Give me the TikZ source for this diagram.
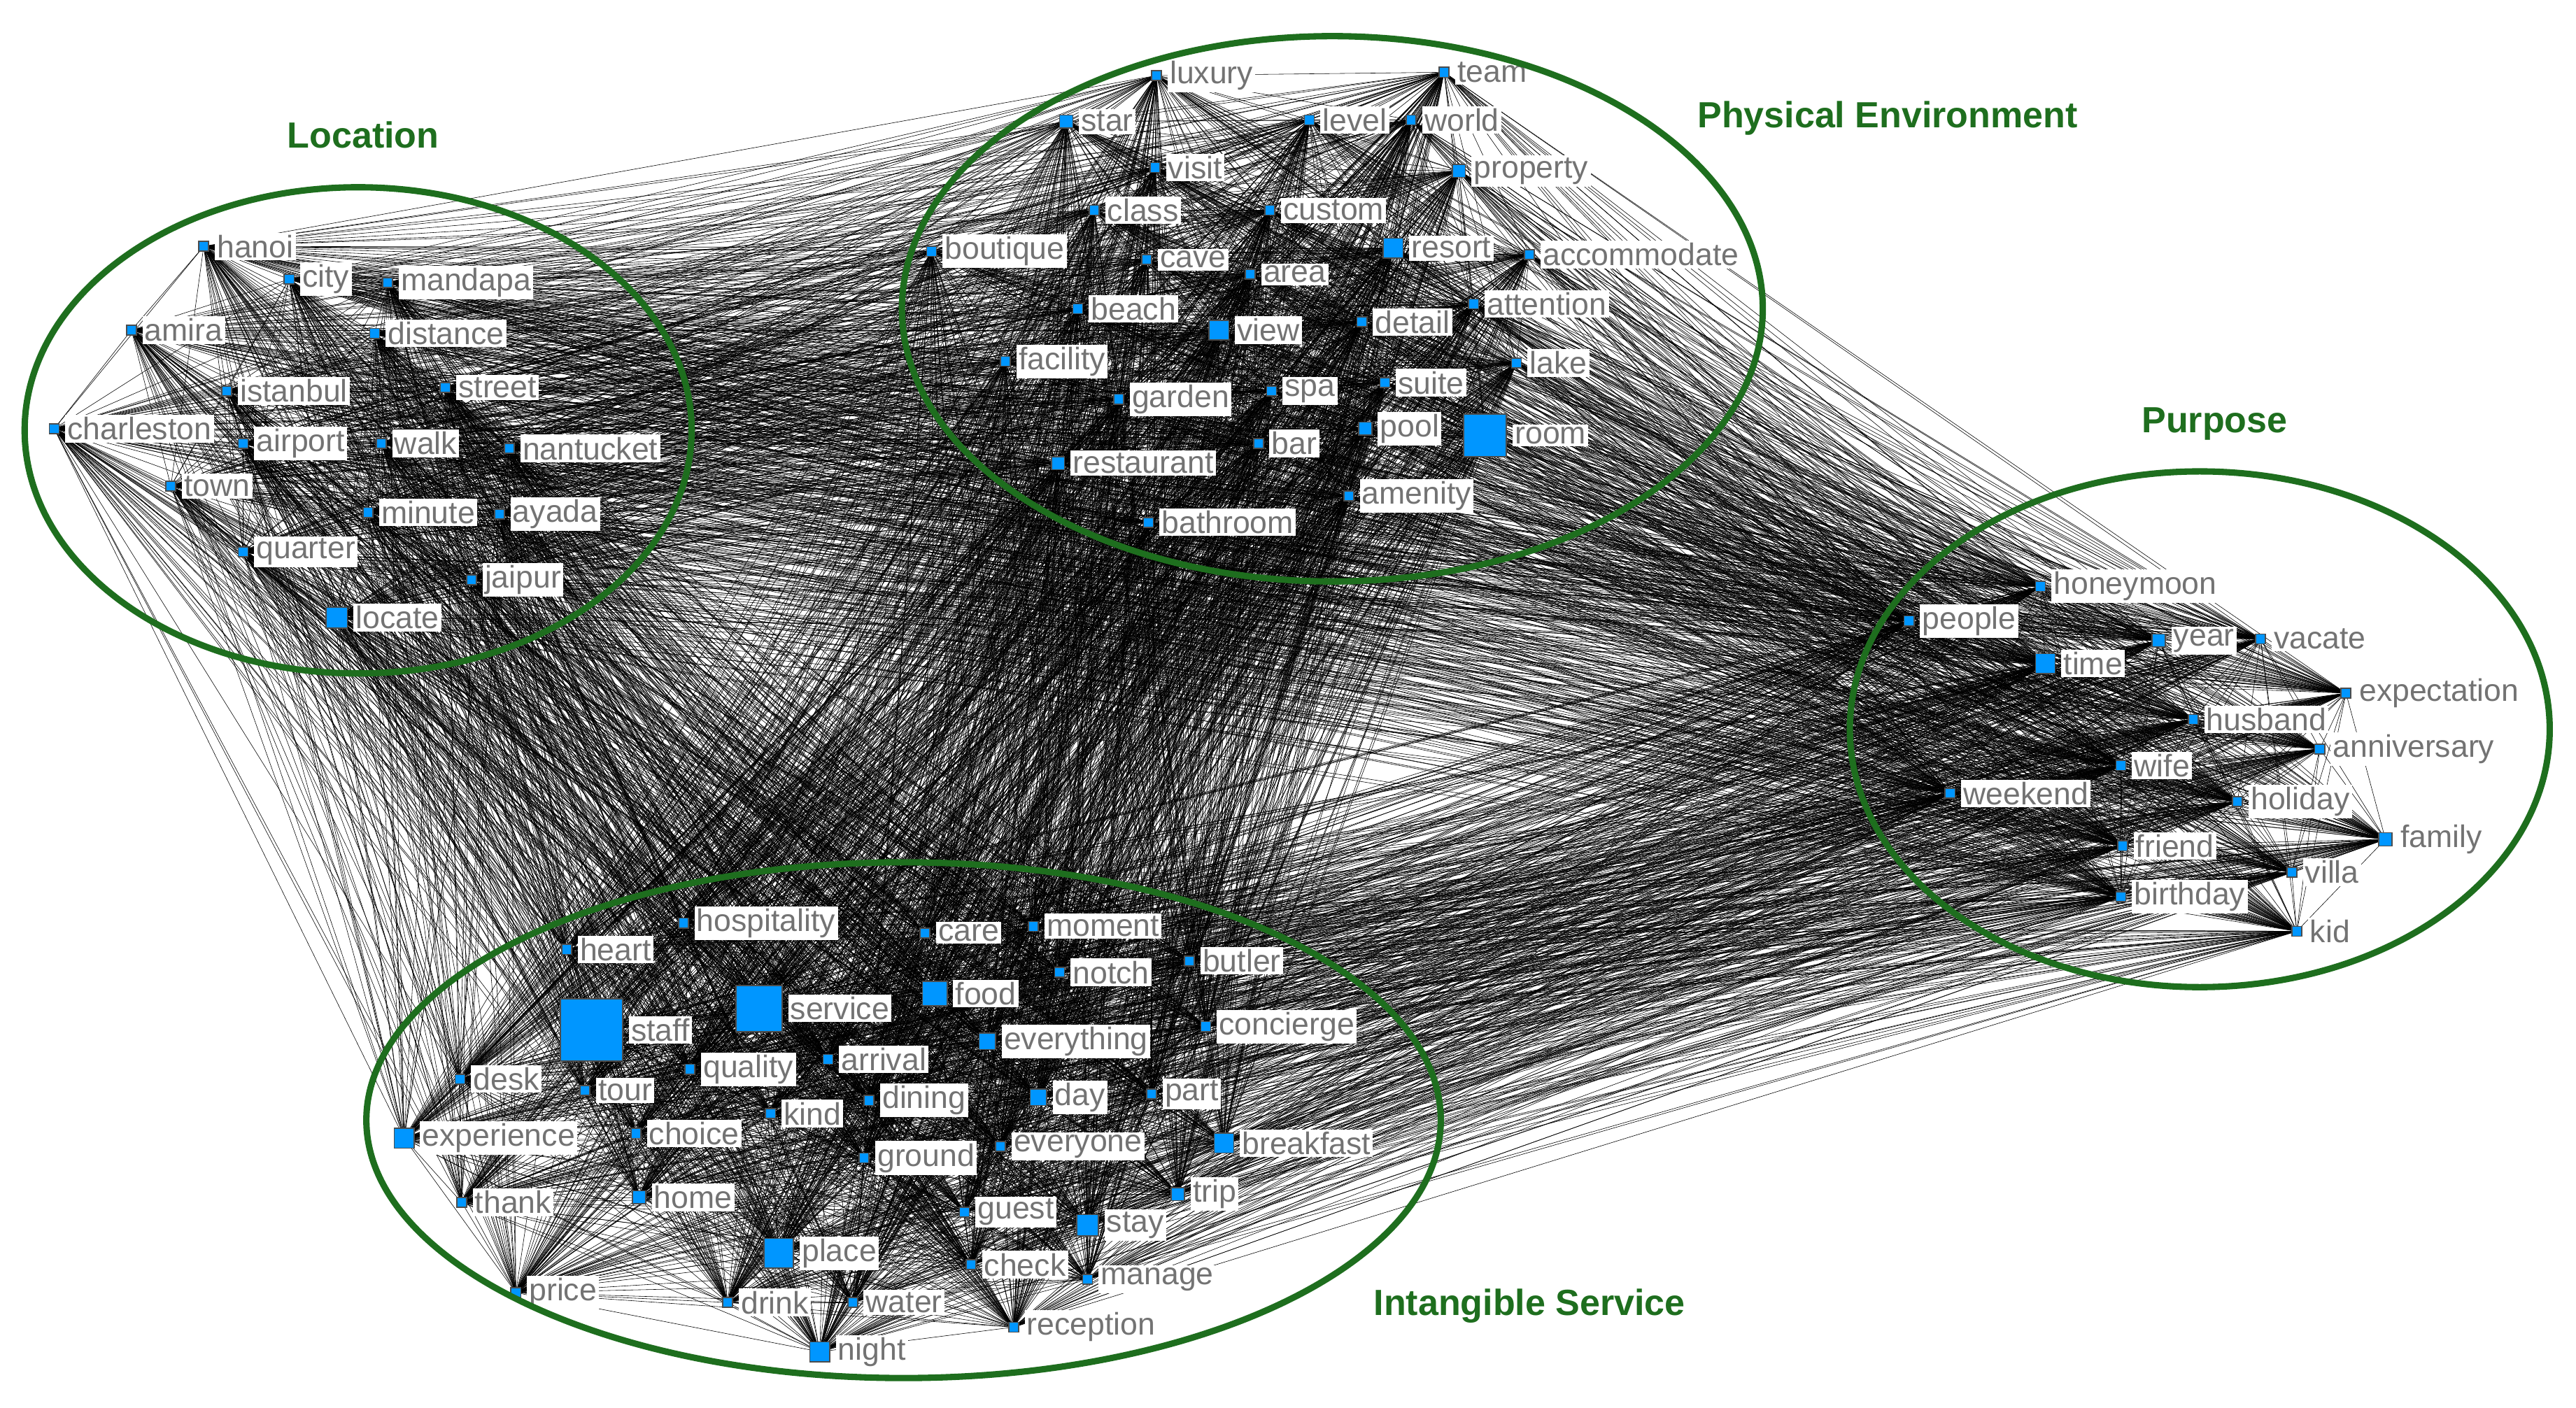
\documentclass[tikz,border=0pt]{standalone}
\usepackage{fontspec}
\setmainfont{Liberation Sans}
\begin{document}
\def\allnodes{hanoi/124/150/6,city/176/170/6,mandapa/236/172/6,amira/80/201/6,distance/228/203/6,istanbul/138/238/6,street/271/236/6,charleston/33/261/6,airport/148/270/6,walk/232/270/6,nantucket/310/273/6,town/104/296/6,minute/224/312/6,ayada/304/313/6,quarter/148/336/6,jaipur/287/353/6,locate/205/376/13,
luxury/704/46/6,team/879/44/6,star/649/74/8,level/797/73/6,world/859/73/6,visit/703/102/6,property/888/104/8,class/666/128/6,custom/773/128/6,resort/848/151/12,accommodate/931/155/6,boutique/567/153/6,cave/698/158/6,area/761/167/6,beach/656/188/6,view/742/201/12,detail/829/196/6,attention/897/185/6,facility/612/220/6,lake/923/221/6,garden/681/243/6,spa/774/238/6,suite/843/233/6,pool/831/261/8,room/904/265/26,bar/766/270/6,restaurant/644/282/8,amenity/821/302/6,bathroom/699/318/6,
honeymoon/1242/357/6,people/1162/378/6,year/1314/390/8,vacate/1376/389/6,time/1245/404/12,expectation/1428/422/6,husband/1335/438/6,anniversary/1412/456/6,wife/1291/466/6,weekend/1187/483/6,holiday/1362/488/6,family/1452/511/8,friend/1292/515/6,villa/1395/531/6,birthday/1291/546/6,kid/1398/567/6,
hospitality/416/562/6,care/563/568/6,moment/629/564/6,heart/345/578/6,butler/724/585/6,notch/645/592/6,staff/360/627/38,service/462/614/28,food/569/605/15,concierge/734/625/6,everything/601/634/10,arrival/504/645/6,quality/420/651/6,desk/280/657/6,tour/356/664/6,part/701/666/6,day/632/668/10,dining/529/670/6,kind/469/678/6,experience/246/693/12,choice/387/690/6,breakfast/745/696/12,everyone/609/698/6,ground/526/705/6,thank/281/732/6,home/389/729/8,trip/717/727/8,guest/587/738/6,stay/662/746/13,place/474/763/18,check/591/770/6,manage/662/779/6,price/314/787/6,drink/443/793/6,water/519/793/6,night/499/823/12,reception/617/808/6}
\begin{tikzpicture}[x=0.01cm,y=-0.01cm,
  edge/.style={line width=0.07pt,black},
  mark/.style={draw=black!70,line width=0.2pt,fill={rgb,255:red,0;green,150;blue,255},inner sep=0pt,minimum size=#1*0.01cm},
  lab/.style={fill=white,text=black!55,inner sep=0.4pt,font=\fontsize{5.4}{6}\selectfont,anchor=west},
  ring/.style={draw={rgb,255:red,30;green,110;blue,30},line width=1.1pt},
  title/.style={text={rgb,255:red,30;green,110;blue,30},font=\fontsize{6.3}{7}\selectfont\bfseries}]
\useasboundingbox (0,0) rectangle (1568,857);
\foreach \n/\x/\y/\s in \allnodes {\coordinate (c-\n) at (\x,\y);}
\foreach \a/\ax/\ay/\as [count=\i] in \allnodes {
  \foreach \b/\bx/\by/\bs [count=\j] in \allnodes {
    \ifnum\j>\i \draw[edge] (c-\a) -- (c-\b); \fi
  }
}
\foreach \n/\x/\y/\s in \allnodes {
  \node[mark=\s] (\n) at (c-\n) {};
  \node[lab] (l-\n) at ([xshift=\s*0.005cm+0.03cm]c-\n) {\n};
}
\draw[ring] (218,262) ellipse [x radius=203,y radius=148];
\draw[ring] (811,188) ellipse [x radius=262,y radius=166];
\draw[ring] (1339,444) ellipse [x radius=213,y radius=157];
\draw[ring] (550,682) ellipse [x radius=327,y radius=157];
\node[title] (t1) at (221,82) {Location};
\node[title] (t2) at (1149,72) {Physical Environment};
\node[title] (t3) at (1348,258) {Purpose};
\node[title] (t4) at (931,795) {Intangible Service};
\end{tikzpicture}
\end{document}
